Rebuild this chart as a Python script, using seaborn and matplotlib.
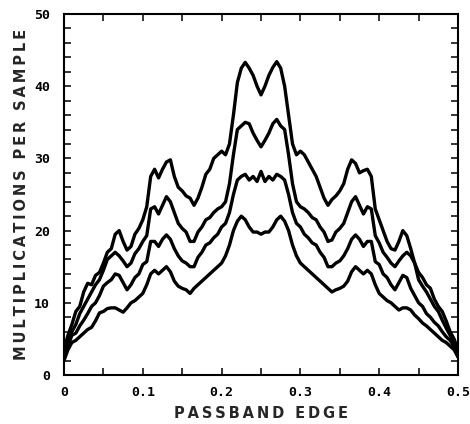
import numpy as np
import pandas as pd
import matplotlib
matplotlib.use("Agg")
import matplotlib.pyplot as plt
import seaborn as sns

# Passband edge values (x) and four curves of multiplications per sample
passband_edge = [round(i * 0.005, 3) for i in range(101)]

curve_a = [3.5, 5.5, 7.0, 8.8, 9.5, 11.5, 12.7, 12.5, 13.8, 14.2,
           15.5, 17.0, 17.5, 19.5, 20.0, 18.5, 17.3, 17.8, 19.5, 20.3,
           21.5, 23.3, 27.5, 28.5, 27.3, 28.5, 29.5, 29.8, 27.5, 26.0,
           25.5, 24.8, 24.5, 23.5, 24.5, 26.0, 27.8, 28.5, 30.0, 30.5,
           31.0, 30.5, 32.0, 36.0, 40.5, 42.5, 43.3, 42.5, 41.5, 40.0,
           38.8,
           40.0, 41.5, 42.6, 43.4, 42.5, 40.0, 36.0, 32.0, 30.5, 31.0,
           30.5, 29.5, 28.5, 27.5, 26.0, 24.5, 23.5, 24.3, 24.8, 25.5,
           26.5, 28.5, 29.8, 29.3, 28.0, 28.3, 28.5, 27.5, 23.0, 21.5,
           20.0, 18.5, 17.5, 17.3, 18.5, 20.0, 19.3, 17.5, 15.5, 14.2,
           13.5, 12.5, 12.0, 10.5, 9.5, 8.8, 7.5, 6.0, 5.0, 3.5]

curve_b = [3.0, 4.5, 6.0, 7.0, 8.5, 9.5, 10.5, 11.5, 12.5, 13.2,
           14.5, 16.0, 16.5, 17.0, 16.5, 15.8, 15.0, 15.5, 16.8, 17.5,
           18.5, 19.3, 23.0, 23.3, 22.3, 23.5, 24.7, 24.0, 22.5, 21.0,
           20.3, 19.8, 18.5, 18.5, 19.8, 20.5, 21.5, 21.8, 22.5, 23.0,
           23.3, 24.0, 26.5, 30.5, 34.0, 34.5, 35.0, 34.8, 33.5, 32.5,
           31.6,
           32.5, 33.5, 34.8, 35.4, 34.5, 34.0, 30.5, 26.5, 24.0, 23.3,
           23.0, 22.5, 21.8, 21.5, 20.5, 19.8, 18.5, 18.7, 19.8, 20.3,
           21.0, 22.5, 24.0, 24.7, 23.5, 22.3, 23.3, 23.0, 19.3, 18.3,
           17.0, 16.3, 15.5, 15.0, 15.8, 16.5, 17.0, 16.5, 15.5, 13.2,
           12.3, 11.5, 10.5, 9.5, 8.8, 7.6, 6.5, 5.5, 4.5, 3.0]

curve_c = [2.5, 4.0, 5.5, 5.8, 6.8, 7.6, 8.5, 9.5, 10.0, 11.0,
           12.3, 12.8, 13.2, 14.0, 13.8, 12.8, 11.8, 12.5, 13.5, 14.0,
           15.3, 15.7, 18.5, 18.5, 17.8, 18.8, 19.4, 18.8, 17.5, 16.5,
           15.8, 15.5, 15.0, 15.0, 16.3, 17.0, 18.0, 18.3, 19.0, 19.5,
           20.5, 21.0, 22.5, 25.0, 27.0, 27.5, 27.8, 27.0, 27.5, 26.8,
           28.2,
           26.8, 27.5, 27.0, 27.8, 27.5, 27.0, 25.0, 22.5, 21.0, 20.5,
           19.5, 19.0, 18.3, 18.0, 17.0, 16.3, 15.0, 15.0, 15.5, 15.8,
           16.5, 17.5, 18.8, 19.4, 18.8, 17.8, 18.5, 18.5, 15.7, 15.3,
           14.0, 13.5, 12.5, 11.8, 12.8, 13.8, 13.5, 12.0, 11.0, 10.0,
           9.5, 8.5, 8.0, 7.3, 6.8, 6.0, 5.3, 4.8, 4.0, 2.5]

curve_d = [2.0, 3.5, 4.5, 4.8, 5.3, 5.8, 6.3, 6.6, 7.5, 8.6,
           8.8, 9.2, 9.3, 9.3, 9.0, 8.7, 9.3, 10.0, 10.3, 10.8,
           11.3, 12.5, 14.0, 14.5, 14.0, 14.5, 15.0, 14.3, 13.0, 12.3,
           12.0, 11.8, 11.3, 12.0, 12.5, 13.0, 13.5, 14.0, 14.5, 15.0,
           15.5, 16.5, 18.0, 20.0, 21.3, 22.0, 21.5, 20.5, 19.8, 19.8,
           19.5,
           19.8, 19.8, 20.5, 21.5, 22.0, 21.3, 20.0, 18.0, 16.5, 15.5,
           15.0, 14.5, 14.0, 13.5, 13.0, 12.5, 12.0, 11.5, 11.8, 12.0,
           12.3, 13.0, 14.3, 15.0, 14.5, 14.0, 14.5, 14.0, 12.5, 11.3,
           10.8, 10.3, 10.0, 9.5, 9.0, 9.3, 9.3, 9.0, 8.3, 7.8,
           7.2, 6.8, 6.3, 5.8, 5.3, 4.8, 4.5, 4.0, 3.5, 2.5]

x_ticks = [0, 0.1, 0.2, 0.3, 0.4, 0.5]
x_tick_labels = ["0", "0.1", "0.2", "0.3", "0.4", "0.5"]
y_ticks = [0, 10, 20, 30, 40, 50]
y_tick_labels = ["0", "10", "20", "30", "40", "50"]
x_label = "PASSBAND EDGE"
y_label = "MULTIPLICATIONS PER SAMPLE"

sns.set_style("white")


def spaced(s):
    # plotter-style wide letter spacing
    return "\u2009".join(s)


df = pd.DataFrame({
    "x": passband_edge * 4,
    "y": curve_a + curve_b + curve_c + curve_d,
    "curve": (["a"] * 101) + (["b"] * 101) + (["c"] * 101) + (["d"] * 101),
})

fig = plt.figure(figsize=(4.70, 4.24), dpi=100)
ax = fig.add_axes([64 / 470, 49 / 424, 394 / 470, 361 / 424])

sns.lineplot(data=df, x="x", y="y", hue="curve",
             palette=["black"] * 4, linewidth=2.4, legend=False,
             estimator=None, sort=False, ax=ax)

ax.set_xlim(0, 0.5)
ax.set_ylim(0, 50)

ax.set_xticks(x_ticks)
ax.set_xticklabels(x_tick_labels)
ax.set_xticks(np.arange(0.05, 0.5, 0.1), minor=True)
ax.set_yticks(y_ticks)
ax.set_yticklabels(y_tick_labels)
ax.set_yticks([v for v in range(2, 50, 2) if v % 10 != 0], minor=True)

for sp in ax.spines.values():
    sp.set_visible(True)
    sp.set_color("black")
    sp.set_linewidth(1.5)

ax.tick_params(which="both", direction="in", length=5, width=1.1,
               top=True, right=True, bottom=True, left=True, colors="black")
ax.tick_params(axis="x", which="major", pad=8)
ax.tick_params(axis="y", which="major", pad=10)

for lab in ax.get_xticklabels() + ax.get_yticklabels():
    lab.set_fontfamily("DejaVu Sans Mono")
    lab.set_fontweight("bold")
    lab.set_fontsize(9.5)

ax.set_xlabel(spaced(x_label), fontsize=10.5, family="DejaVu Sans",
              fontweight="bold", labelpad=5)
ax.set_ylabel(spaced(y_label), fontsize=10.5, family="DejaVu Sans",
              fontweight="bold", labelpad=4)

fig.savefig("out.png", dpi=100, facecolor="white")
